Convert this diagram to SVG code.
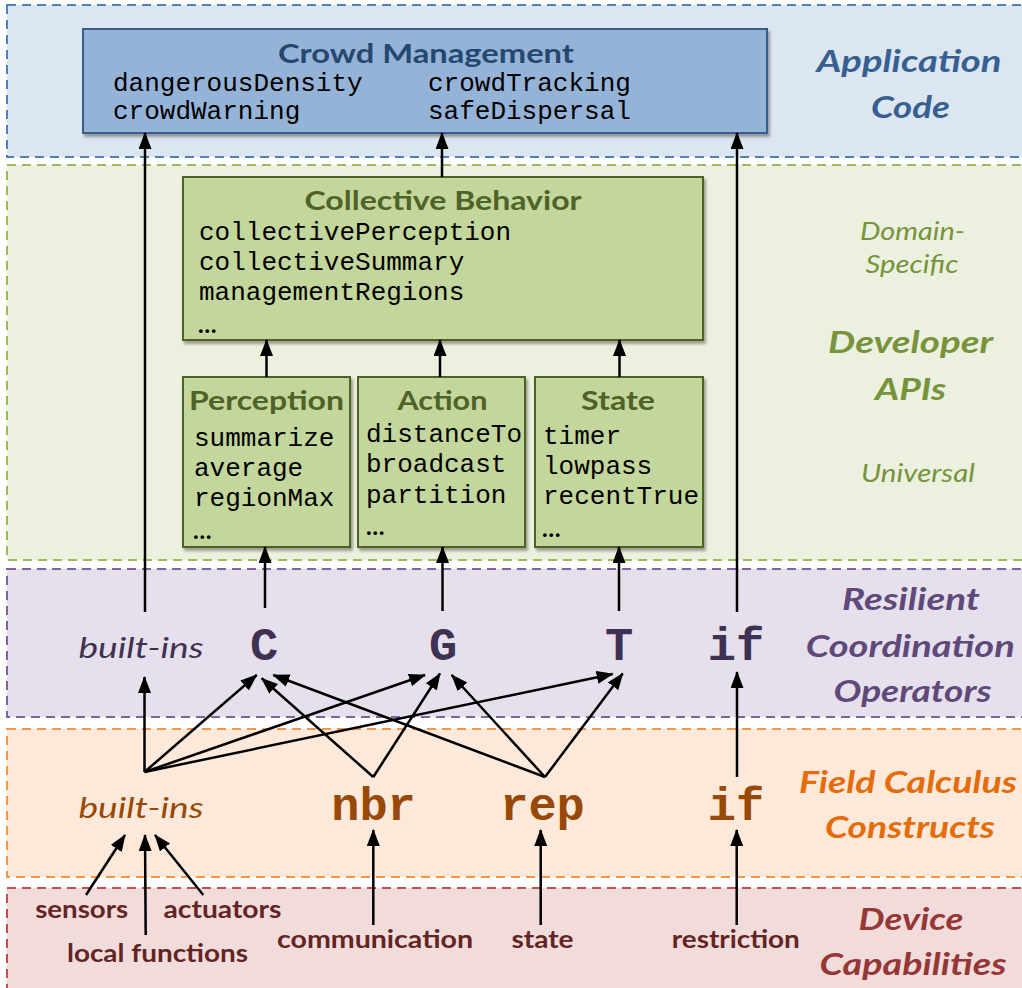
<svg xmlns="http://www.w3.org/2000/svg" width="1022" height="988" viewBox="0 0 1022 988">
<defs>
<style>
.band{stroke-width:2;stroke-dasharray:9 6}
.box{stroke-width:2}
.title{font-family:Lato,"Open Sans","Liberation Sans",sans-serif;font-weight:bold;font-size:27px;text-anchor:middle}
.mono{font-family:"Liberation Mono","DejaVu Sans Mono",monospace;font-size:26px;fill:#000}
.ell{font-family:Lato,"Liberation Sans",sans-serif;font-size:24px;font-weight:bold;fill:#000}
.op{font-family:"Liberation Mono","DejaVu Sans Mono",monospace;font-weight:bold;font-size:47px;text-anchor:middle}
.side{font-family:Lato,"Open Sans","Liberation Sans",sans-serif;font-weight:bold;font-style:italic;font-size:31px;text-anchor:middle}
.sub{font-family:Lato,"Open Sans","Liberation Sans",sans-serif;font-style:italic;font-size:25px;text-anchor:middle;fill:#77933c}
.bi{font-family:Lato,"Open Sans","Liberation Sans",sans-serif;font-style:italic;font-size:29px;text-anchor:middle}
.dev{font-family:Lato,"Open Sans","Liberation Sans",sans-serif;font-weight:bold;font-size:25px;text-anchor:middle;fill:#632523}
.arr{stroke:#000;stroke-width:2.5;fill:none;marker-end:url(#ah)}
</style>
<marker id="ah" markerUnits="userSpaceOnUse" markerWidth="18" markerHeight="14" refX="16" refY="6.5" orient="auto">
<path d="M0,0 L17,6.5 L0,13 z" fill="#000"/>
</marker>
<filter id="sh" x="-5%" y="-5%" width="115%" height="120%">
<feDropShadow dx="2" dy="3" stdDeviation="1.5" flood-color="#000" flood-opacity="0.35"/>
</filter>
</defs>

<g id="band-application">
<rect class="band" x="7" y="5" width="1030" height="152" fill="#dce6f1" stroke="#4f81bd"/>
<text class="side" fill="#376092" x="909" y="72" textLength="185" lengthAdjust="spacingAndGlyphs">Application</text>
<text class="side" fill="#376092" x="910.5" y="118" textLength="79" lengthAdjust="spacingAndGlyphs">Code</text>
</g>
<g id="band-developer">
<rect class="band" x="7" y="165" width="1030" height="395" fill="#ebf1de" stroke="#9bbb59"/>
<text class="sub" x="912.5" y="240" textLength="105" lengthAdjust="spacingAndGlyphs">Domain-</text>
<text class="sub" x="912" y="273" textLength="93" lengthAdjust="spacingAndGlyphs">Specific</text>
<text class="side" fill="#77933c" x="910.5" y="353" textLength="165" lengthAdjust="spacingAndGlyphs">Developer</text>
<text class="side" fill="#77933c" x="910.5" y="400" textLength="71" lengthAdjust="spacingAndGlyphs">APIs</text>
<text class="sub" x="918" y="482" textLength="114" lengthAdjust="spacingAndGlyphs">Universal</text>
</g>
<g id="band-resilient">
<rect class="band" x="7" y="569" width="1030" height="148" fill="#e5e0ec" stroke="#8064a2"/>
<text class="side" fill="#5f497a" x="911" y="610" textLength="138" lengthAdjust="spacingAndGlyphs">Resilient</text>
<text class="side" fill="#5f497a" x="910.3" y="657" textLength="209" lengthAdjust="spacingAndGlyphs">Coordination</text>
<text class="side" fill="#5f497a" x="912.5" y="702" textLength="158" lengthAdjust="spacingAndGlyphs">Operators</text>
</g>
<g id="band-field">
<rect class="band" x="7" y="729" width="1030" height="148" fill="#fde9d9" stroke="#f79646"/>
<text class="side" fill="#e46c0a" x="908" y="793" textLength="218" lengthAdjust="spacingAndGlyphs">Field Calculus</text>
<text class="side" fill="#e46c0a" x="910" y="838" textLength="170" lengthAdjust="spacingAndGlyphs">Constructs</text>
</g>
<g id="band-device">
<rect class="band" x="7" y="888" width="1030" height="110" fill="#f2dcdb" stroke="#c0504d"/>
<text class="side" fill="#953735" x="911" y="930" textLength="105" lengthAdjust="spacingAndGlyphs">Device</text>
<text class="side" fill="#953735" x="913" y="975" textLength="187" lengthAdjust="spacingAndGlyphs">Capabilities</text>
</g>

<g id="crowd-management">
<rect class="box" x="83" y="29" width="684" height="104" fill="#95b3d7" stroke="#385d8a" filter="url(#sh)"/>
<text class="title" fill="#254870" x="426" y="63" textLength="296" lengthAdjust="spacingAndGlyphs">Crowd Management</text>
<text class="mono" x="113" y="90.5">dangerousDensity</text>
<text class="mono" x="113" y="119">crowdWarning</text>
<text class="mono" x="428" y="90.5">crowdTracking</text>
<text class="mono" x="428" y="119">safeDispersal</text>
</g>

<g id="collective-behavior">
<rect class="box" x="183" y="177" width="520" height="163" fill="#c3d69b" stroke="#4f6228" filter="url(#sh)"/>
<text class="title" fill="#4f6228" x="443" y="210" textLength="277" lengthAdjust="spacingAndGlyphs">Collective Behavior</text>
<text class="mono" x="199" y="239.5">collectivePerception</text>
<text class="mono" x="199" y="270">collectiveSummary</text>
<text class="mono" x="199" y="300">managementRegions</text>
<text class="ell" x="198" y="333">…</text>
</g>

<g id="perception">
<rect class="box" x="183" y="377" width="167" height="170" fill="#c3d69b" stroke="#4f6228" filter="url(#sh)"/>
<text class="title" fill="#4f6228" x="266.5" y="410" textLength="155" lengthAdjust="spacingAndGlyphs">Perception</text>
<text class="mono" x="194" y="445.5">summarize</text>
<text class="mono" x="194" y="475.5">average</text>
<text class="mono" x="194" y="506">regionMax</text>
<text class="ell" x="193" y="539">…</text>
</g>

<g id="action">
<rect class="box" x="358" y="377" width="167" height="170" fill="#c3d69b" stroke="#4f6228" filter="url(#sh)"/>
<text class="title" fill="#4f6228" x="442.4" y="410" textLength="90" lengthAdjust="spacingAndGlyphs">Action</text>
<text class="mono" x="366" y="442">distanceTo</text>
<text class="mono" x="366" y="472">broadcast</text>
<text class="mono" x="366" y="502.5">partition</text>
<text class="ell" x="366" y="535">…</text>
</g>

<g id="state">
<rect class="box" x="535" y="377" width="168" height="170" fill="#c3d69b" stroke="#4f6228" filter="url(#sh)"/>
<text class="title" fill="#4f6228" x="618" y="410" textLength="74" lengthAdjust="spacingAndGlyphs">State</text>
<text class="mono" x="543" y="443.5">timer</text>
<text class="mono" x="543" y="473.5">lowpass</text>
<text class="mono" x="543" y="503.5">recentTrue</text>
<text class="ell" x="542" y="537">…</text>
</g>

<g id="op-builtins"><text class="bi" fill="#3f3151" x="141" y="658" textLength="125" lengthAdjust="spacingAndGlyphs">built-ins</text></g>
<g id="op-C"><text class="op" fill="#3f3151" x="264" y="660">C</text></g>
<g id="op-G"><text class="op" fill="#3f3151" x="443" y="660">G</text></g>
<g id="op-T"><text class="op" fill="#3f3151" x="619" y="660">T</text></g>
<g id="op-if"><text class="op" fill="#3f3151" x="736" y="660">if</text></g>

<g id="fc-builtins"><text class="bi" fill="#984807" x="141" y="818" textLength="125" lengthAdjust="spacingAndGlyphs">built-ins</text></g>
<g id="fc-nbr"><text class="op" fill="#984807" x="373.5" y="820">nbr</text></g>
<g id="fc-rep"><text class="op" fill="#984807" x="542.5" y="820">rep</text></g>
<g id="fc-if"><text class="op" fill="#984807" x="736" y="820">if</text></g>

<g id="dev-sensors"><text class="dev" x="81.7" y="918" textLength="93" lengthAdjust="spacingAndGlyphs">sensors</text></g>
<g id="dev-actuators"><text class="dev" x="222.5" y="918" textLength="118" lengthAdjust="spacingAndGlyphs">actuators</text></g>
<g id="dev-local"><text class="dev" x="157.5" y="961.5" textLength="181" lengthAdjust="spacingAndGlyphs">local functions</text></g>
<g id="dev-communication"><text class="dev" x="375" y="948" textLength="196" lengthAdjust="spacingAndGlyphs">communication</text></g>
<g id="dev-state"><text class="dev" x="542.5" y="948" textLength="62" lengthAdjust="spacingAndGlyphs">state</text></g>
<g id="dev-restriction"><text class="dev" x="735.8" y="948" textLength="128" lengthAdjust="spacingAndGlyphs">restriction</text></g>

<g id="connectors">
<line class="arr" x1="145" y1="612" x2="145" y2="133"/>
<line class="arr" x1="737" y1="612" x2="737" y2="133"/>
<line class="arr" x1="442" y1="177" x2="442" y2="133"/>
<line class="arr" x1="266.5" y1="377" x2="266.5" y2="340"/>
<line class="arr" x1="440" y1="377" x2="440" y2="340"/>
<line class="arr" x1="619.5" y1="377" x2="619.5" y2="340"/>
<line class="arr" x1="265" y1="608" x2="265" y2="547"/>
<line class="arr" x1="442.5" y1="611" x2="442.5" y2="547"/>
<line class="arr" x1="619" y1="611" x2="619" y2="547"/>

<line class="arr" x1="144.5" y1="772" x2="144.5" y2="677"/>
<line class="arr" x1="144.5" y1="772" x2="256.7" y2="675"/>
<line class="arr" x1="144.5" y1="772" x2="425" y2="675"/>
<line class="arr" x1="144.5" y1="772" x2="612.7" y2="674"/>
<line class="arr" x1="373.3" y1="777" x2="261.7" y2="678.3"/>
<line class="arr" x1="373.3" y1="777" x2="440" y2="673.5"/>
<line class="arr" x1="545" y1="777" x2="273.3" y2="675"/>
<line class="arr" x1="545" y1="777" x2="451.7" y2="675"/>
<line class="arr" x1="545" y1="777" x2="622.7" y2="673.5"/>
<line class="arr" x1="737" y1="777" x2="737" y2="672"/>

<line class="arr" x1="86" y1="895" x2="125" y2="835"/>
<line class="arr" x1="145.7" y1="935" x2="145" y2="835"/>
<line class="arr" x1="203.3" y1="895" x2="155" y2="835"/>
<line class="arr" x1="373.3" y1="925" x2="373.3" y2="830"/>
<line class="arr" x1="540.7" y1="925" x2="540.7" y2="830"/>
<line class="arr" x1="736.7" y1="925" x2="736.7" y2="830"/>
</g>
</svg>
